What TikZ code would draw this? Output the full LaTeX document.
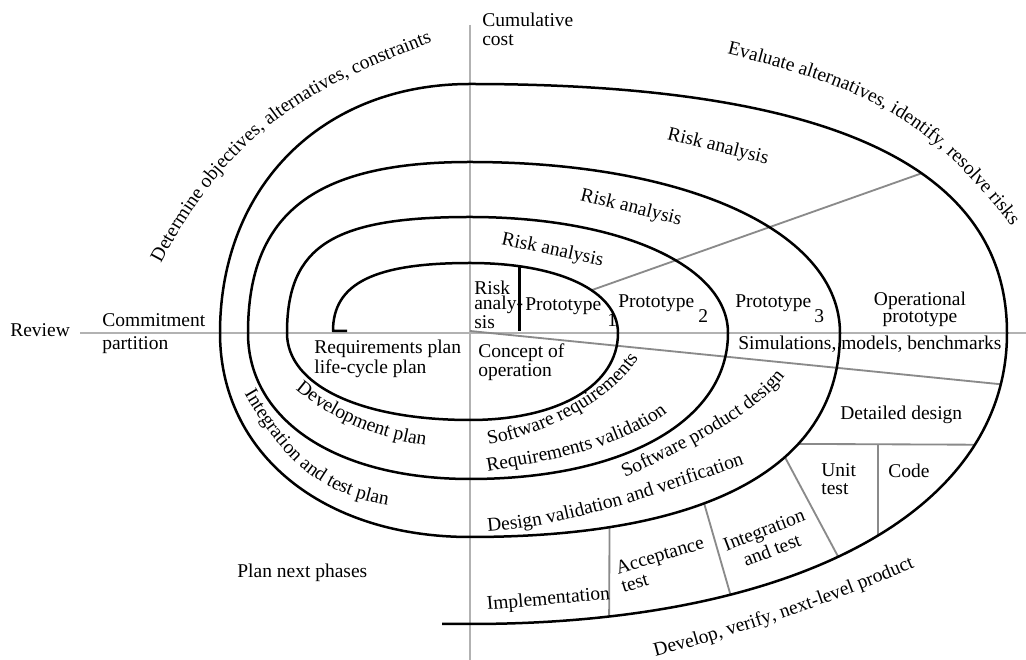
\documentclass[tikz,border=0pt]{standalone}
\usepackage{fontspec}
\setmainfont{Liberation Serif}
\usetikzlibrary{decorations.text, backgrounds}
\definecolor{axGray}{RGB}{178,178,178}
\definecolor{sepGray}{RGB}{138,138,138}
\newcommand{\lblfont}{\fontsize{11.7}{14}\selectfont}
\tikzset{
  spiralLn/.style={line width=1.5pt, color=black, line join=round},
  axisLn/.style={line width=1.1pt, color=axGray},
  sepLn/.style={line width=1.1pt, color=sepGray},
  lbl/.style={font=\lblfont, inner sep=0pt, text=black},
  multi/.style={lbl, align=left, font=\fontsize{11.7}{#1}\selectfont},
  arcText/.style={decorate, decoration={text along path, text align=center,
    text={|\lblfont|#1}}},
}

\begin{document}
\begin{tikzpicture}[x=0.6pt, y=-0.6pt]
\useasboundingbox (0,0) rectangle (1026,660);

%% ── SPIRAL ──────────────────────────────────────────────
\coordinate (o) at (470,331);
\draw[spiralLn] (347,331) -- (333,331)
  .. controls (333,283.4) and (374.1,263) .. (470,263)
  .. controls (558.8,263) and (618,291) .. coordinate[pos=0.2] (rA) coordinate[pos=0.6] (dI) (618,333)
  .. controls (618,385.2) and (558.8,420) .. (470,420)
  .. controls (360.2,420) and (287,385.2) .. (287,333)
  .. controls (287,246) and (332.75,217) .. (470,217)
  .. controls (619.6,217) and (728,265.7) .. (728,333)
  .. controls (728,420.6) and (624.8,479) .. (470,479)
  .. controls (336.8,479) and (248,420.6) .. (248,333)
  .. controls (248,213.3) and (314.6,162) .. (470,162)
  .. controls (688.3,162) and (840,232.1) .. (840,333)
  .. controls (840,465.6) and (710.5,537) .. coordinate[pos=0.33] (dA) coordinate[pos=0.38] (iA)
       coordinate[pos=0.6] (aA) coordinate[pos=0.785] (mA) (470,537)
  .. controls (322.5,537) and (220,453.4) .. (220,333)
  .. controls (220,186.1) and (322.5,84) .. (470,84)
  .. controls (829.8,84) and (1007,166.2) .. coordinate[pos=0.6] (dO) (1007,333)
  .. controls (1007,510.5) and (797.6,624) .. coordinate[pos=0.1] (sE) coordinate[pos=0.23] (dB)
       coordinate[pos=0.47] (cU) coordinate[pos=0.54] (iB) coordinate[pos=0.7] (aB)
       coordinate[pos=0.85] (mB) (470,624)
  -- (442,624);
\draw[spiralLn, line width=1.3pt] (rA) -- (rA |- o);

%% ── AXES + SEPARATORS ───────────────────────────────────
\begin{pgfonlayer}{background}
  \fill[white] (0,0) rectangle (1026,660);
  \draw[axisLn] (80,333) -- (1026,333);
  \draw[axisLn] (470,25) -- (470,660);
  \draw[sepLn] (dI) -- (dO);
  \draw[sepLn] (o) -- (sE);
  \draw[sepLn] (dA) -- (dB);
  \draw[sepLn] (cU) -- (cU |- dA);
  \draw[sepLn] (iA) -- (iB);
  \draw[sepLn] (aA) -- (aB);
  \draw[sepLn] (mA) -- (mB);
\end{pgfonlayer}

%% ── QUADRANT TEXTS ──────────────────────────────────────
\node[lbl, anchor=base west] (review) at (10,337) {Review};
\node[lbl, anchor=base west] (commit) at (102,327) {Commitment};
\node[lbl, anchor=base west] (partit) at (102,350) {partition};
\node[multi=11.4, anchor=north west] (cumCost) at (482,13) {Cumulative\\cost};
\node[lbl, anchor=base west] (planNext) at (237,578) {Plan next phases};

\path[arcText={Determine objectives, alternatives, constraints}]
  (149.4,285.2) -- (161,263) .. controls (235,121) and (320,86) .. (432,42) -- (455.3,32.9);
\path[arcText={Evaluate alternatives, identify, resolve risks}]
  (703.7,48) -- (728,54) .. controls (883,92) and (929,124) .. (1011,225) -- (1026.8,244.4);
\path[arcText={Develop, verify, next-level product}]
  (630.6,663) -- (650,658) .. controls (740,635) and (840,600) .. (920,565) -- (938.3,557);

%% ── RISK ANALYSIS + PROTOTYPES ──────────────────────────
\node[lbl, rotate=-12] (riskIn)  at (552.5,250.5) {Risk analysis};
\node[lbl, rotate=-14] (riskMid) at (631,208) {Risk analysis};
\node[lbl, rotate=-14] (riskOut) at (718,147) {Risk analysis};
\node[multi=9, anchor=north west] (riskSm) at (474,280.5) {Risk\\analy-\\sis};

\node[lbl, anchor=base west] (proto1) at (525,311) {Prototype};
\node[lbl, anchor=base west] (sub1) at (607,327) {1};
\node[lbl, anchor=base west] (proto2) at (618,308) {Prototype};
\node[lbl, anchor=base west] (sub2) at (698,323) {2};
\node[lbl, anchor=base west] (proto3) at (735,308) {Prototype};
\node[lbl, anchor=base west] (sub3) at (814,323) {3};
\node[multi=8.4, align=center, anchor=north] (opProto) at (920,292) {Operational\\prototype};
\node[lbl, anchor=base west] (simul) at (738,350) {Simulations, models, benchmarks};

%% ── PLANS + REQUIREMENTS ────────────────────────────────
\node[multi=10.4, anchor=north west] (reqPlan) at (314,340) {Requirements plan\\life-cycle plan};
\node[multi=11.4, anchor=north west] (concept) at (478,343) {Concept of\\operation};

\path[arcText={Development plan}]
  (277.2,372.6) -- (292,386) .. controls (329,419.5) and (380.5,440) .. (430,446) -- (450,448.4);
\path[arcText={Integration and test plan}]
  (232,372.7) -- (242,390) .. controls (282,459.3) and (317.75,494.75) .. (392,506) -- (411.8,509);
\path[arcText={Software requirements}]
  (473.4,448.2) -- (493,444) .. controls (551.7,431.5) and (610.2,398.9) .. (636,362) -- (647.5,345.6);
\path[arcText={Requirements validation}]
  (464.3,475.4) -- (484,472) .. controls (553,460) and (623.8,448.4) .. (670,410) -- (685.4,397.2);
\path[arcText={Software product design}]
  (607,487) -- (625,478) .. controls (679,452) and (755,416) .. (785,376) -- (797,360);
\path[arcText={Design validation and verification}]
  (464,533.4) -- (484,532) .. controls (570,526) and (660,494) .. (748,463) -- (766.9,456.4);

%% ── DEVELOPMENT STEPS ───────────────────────────────────
\node[lbl, anchor=base west] (detDes) at (840,420) {Detailed design};
\node[multi=11, anchor=north west] (unitTest) at (821,463) {Unit\\test};
\node[lbl, anchor=base west] (code) at (888,478) {Code};
\node[multi=13, align=center, rotate=21] (intTest) at (768,540) {Integration\\and test};
\node[multi=11.4, anchor=north west, rotate=17] (accTest) at (614,562) {Acceptance\\test};
\node[lbl, anchor=base west, rotate=5] (impl) at (487,610) {Implementation};

\end{tikzpicture}
\end{document}
